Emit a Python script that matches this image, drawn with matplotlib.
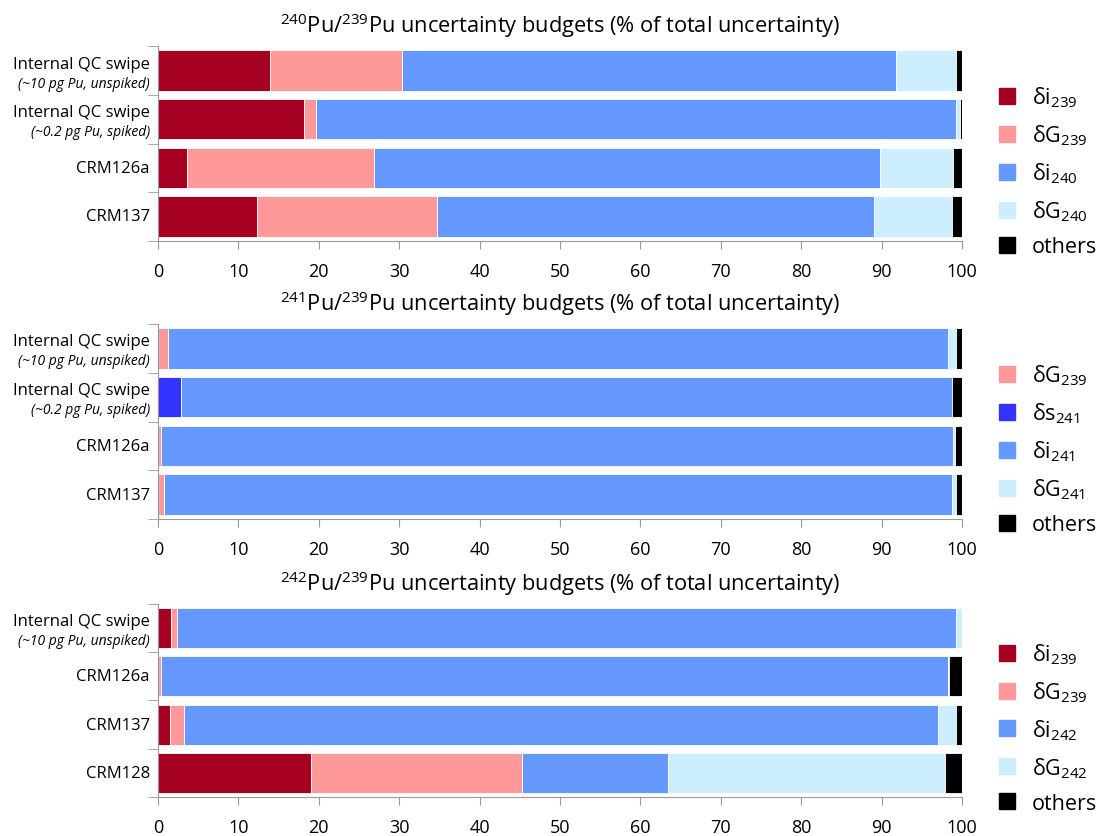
import numpy as np
import matplotlib
matplotlib.use('Agg')
import matplotlib.pyplot as plt
from matplotlib.lines import Line2D

plt.rcParams['font.family'] = ['Open Sans', 'DejaVu Sans']
plt.rcParams['mathtext.fontset'] = 'custom'
plt.rcParams['mathtext.rm'] = 'Open Sans'
plt.rcParams['mathtext.it'] = 'Open Sans:italic'

# colours of the budget components
c_i239 = '#a50021'
c_G239 = '#ff9999'
c_s241 = '#3333ff'
c_i = '#6699ff'
c_G = '#cceeff'
c_oth = '#000000'

qc10 = ('Internal QC swipe', '(~10 pg Pu, unspiked)')
qc02 = ('Internal QC swipe', '(~0.2 pg Pu, spiked)')

# 240Pu/239Pu budget (% of total uncertainty)
rows_240 = [qc10, qc02, ('CRM126a', None), ('CRM137', None)]
i239_240 = [13.9, 18.1, 3.65, 12.3]
G239_240 = [16.4, 1.55, 23.15, 22.4]
i240_240 = [61.5, 79.55, 63.05, 54.3]
G240_240 = [7.4, 0.6, 9.05, 9.8]
oth_240 = [0.8, 0.2, 1.1, 1.2]

# 241Pu/239Pu budget
rows_241 = [qc10, qc02, ('CRM126a', None), ('CRM137', None)]
G239_241 = [1.2, 0.0, 0.4, 0.7]
s241_241 = [0.0, 2.8, 0.0, 0.0]
i241_241 = [97.1, 95.9, 98.5, 98.1]
G241_241 = [0.9, 0.0, 0.2, 0.5]
oth_241 = [0.8, 1.3, 0.9, 0.7]

# 242Pu/239Pu budget
rows_242 = [qc10, ('CRM126a', None), ('CRM137', None), ('CRM128', None)]
i239_242 = [1.6, 0.0, 1.5, 19.0]
G239_242 = [0.7, 0.4, 1.7, 26.3]
i242_242 = [97.0, 97.8, 93.8, 18.1]
G242_242 = [0.7, 0.2, 2.2, 34.5]
oth_242 = [0.0, 1.6, 0.8, 2.1]


def sub(sym, n):
	return 'δ' + sym + r'$_{\mathregular{' + n + '}}$'


# draws one stacked horizontal bar panel with its legend
def panel(fig, rect, title, rows, series):
	ax = fig.add_axes(rect)
	y = np.arange(len(rows))
	left = np.zeros(len(rows))
	handles = []
	for vals, color, label in series:
		vals = np.array(vals)
		ax.barh(y, vals, left=left, height=0.83, color=color,
			edgecolor='white', linewidth=0.6)
		left += vals
		handles.append(Line2D([], [], marker='s', ls='', color=color,
			markersize=11, label=label))

	ax.set_xlim(0, 100)
	ax.set_ylim(len(rows) - 0.5, -0.5)
	ax.set_xticks(np.arange(0, 101, 10))
	ax.set_yticks(y)
	ax.set_yticklabels([''] * len(rows))
	ax.set_yticks(np.arange(len(rows) + 1) - 0.5, minor=True)
	ax.tick_params(axis='y', which='major', length=0)
	ax.tick_params(axis='y', which='minor', length=7, color='#999999')
	ax.tick_params(axis='x', length=6, color='#999999', labelsize=13, pad=9)
	for s in ['top', 'right']:
		ax.spines[s].set_visible(False)
	for s in ['left', 'bottom']:
		ax.spines[s].set_color('#999999')
	ax.set_title(title, fontsize=15.7, pad=10)

	tr = ax.get_yaxis_transform()
	for k, (name, note) in enumerate(rows):
		if note is None:
			ax.text(-0.01, k, name, transform=tr, ha='right', va='center', fontsize=12)
		else:
			ax.annotate(name, (-0.01, k), xycoords=tr, xytext=(0, 5),
				textcoords='offset points', ha='right', va='center', fontsize=12)
			ax.annotate(note, (-0.01, k), xycoords=tr, xytext=(0, -9),
				textcoords='offset points', ha='right', va='center',
				fontsize=10, style='italic')

	ax.legend(handles=handles, loc='center left', bbox_to_anchor=(1.035, 0.36),
		frameon=False, fontsize=15.5, handlelength=0.8, handletextpad=0.75,
		labelspacing=0.62, borderaxespad=0)
	return ax


fig = plt.figure(figsize=(10.99, 8.37), dpi=100)

panel(fig, [0.1438, 0.7112, 0.7316, 0.2323],
	r'$^{240}$Pu/$^{239}$Pu uncertainty budgets (% of total uncertainty)', rows_240,
	[(i239_240, c_i239, sub('i', '239')),
	 (G239_240, c_G239, sub('G', '239')),
	 (i240_240, c_i, sub('i', '240')),
	 (G240_240, c_G, sub('G', '240')),
	 (oth_240, c_oth, 'others')])

panel(fig, [0.1438, 0.3787, 0.7316, 0.2330],
	r'$^{241}$Pu/$^{239}$Pu uncertainty budgets (% of total uncertainty)', rows_241,
	[(G239_241, c_G239, sub('G', '239')),
	 (s241_241, c_s241, sub('s', '241')),
	 (i241_241, c_i, sub('i', '241')),
	 (G241_241, c_G, sub('G', '241')),
	 (oth_241, c_oth, 'others')])

panel(fig, [0.1438, 0.0466, 0.7316, 0.2306],
	r'$^{242}$Pu/$^{239}$Pu uncertainty budgets (% of total uncertainty)', rows_242,
	[(i239_242, c_i239, sub('i', '239')),
	 (G239_242, c_G239, sub('G', '239')),
	 (i242_242, c_i, sub('i', '242')),
	 (G242_242, c_G, sub('G', '242')),
	 (oth_242, c_oth, 'others')])

fig.savefig('out.png', dpi=100)
